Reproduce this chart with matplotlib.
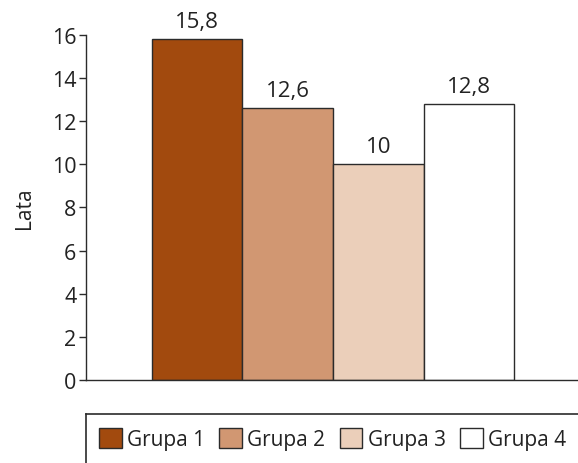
import numpy as np
import matplotlib.pyplot as plt
from matplotlib.patches import Patch
from matplotlib.lines import Line2D

plt.rcParams['font.family'] = ['Open Sans', 'DejaVu Sans']

groups = ['Grupa 1', 'Grupa 2', 'Grupa 3', 'Grupa 4']
values = [15.8, 12.6, 10.0, 12.8]
labels = ['15,8', '12,6', '10', '12,8']
colors = ['#a24a0e', '#d19772', '#ebcfba', '#ffffff']
edge = '#2b2b2b'

fig = plt.figure(figsize=(5.78, 4.64), dpi=100)
ax = fig.add_axes([0.1488, 0.1789, 0.8512, 0.7435])

x = np.arange(len(groups))
bars = ax.bar(x, values, width=1.0, color=colors, edgecolor=edge, linewidth=1.0)

for xi, v, lab in zip(x, values, labels):
    ax.annotate(lab, (xi, v), xytext=(0, 5), textcoords='offset points',
                ha='center', va='bottom', fontsize=16, color='#222222')

ax.set_xlim(-1.229, 4.207)
ax.set_ylim(0, 16)
ax.set_yticks(range(0, 17, 2))
ax.set_xticks([])
ax.tick_params(axis='y', labelsize=15.5, length=5, width=1, color=edge, labelcolor='#222222', pad=2)
for s in ['top', 'right']:
    ax.spines[s].set_visible(False)
for s in ['left', 'bottom']:
    ax.spines[s].set_color(edge)
    ax.spines[s].set_linewidth(1.0)
ax.set_ylabel('Lata', fontsize=15, color='#222222', labelpad=12)

# legend box, open to the right and bottom
fig.add_artist(Line2D([86 / 578, 1.0], [1 - 415 / 464] * 2, color=edge, lw=1.2))
fig.add_artist(Line2D([86 / 578] * 2, [1 - 415 / 464, 0.0], color=edge, lw=1.2))

handles = [Patch(facecolor=c, edgecolor=edge, linewidth=1.0) for c in colors]
fig.legend(handles, groups, loc='center left', bbox_to_anchor=(0.153, 1 - 440 / 464),
           ncol=4, frameon=False, fontsize=15, handlelength=1.1, handleheight=1.1,
           handletextpad=0.25, columnspacing=0.68, borderpad=0, labelcolor='#222222')

fig.savefig('out.png', dpi=100)
